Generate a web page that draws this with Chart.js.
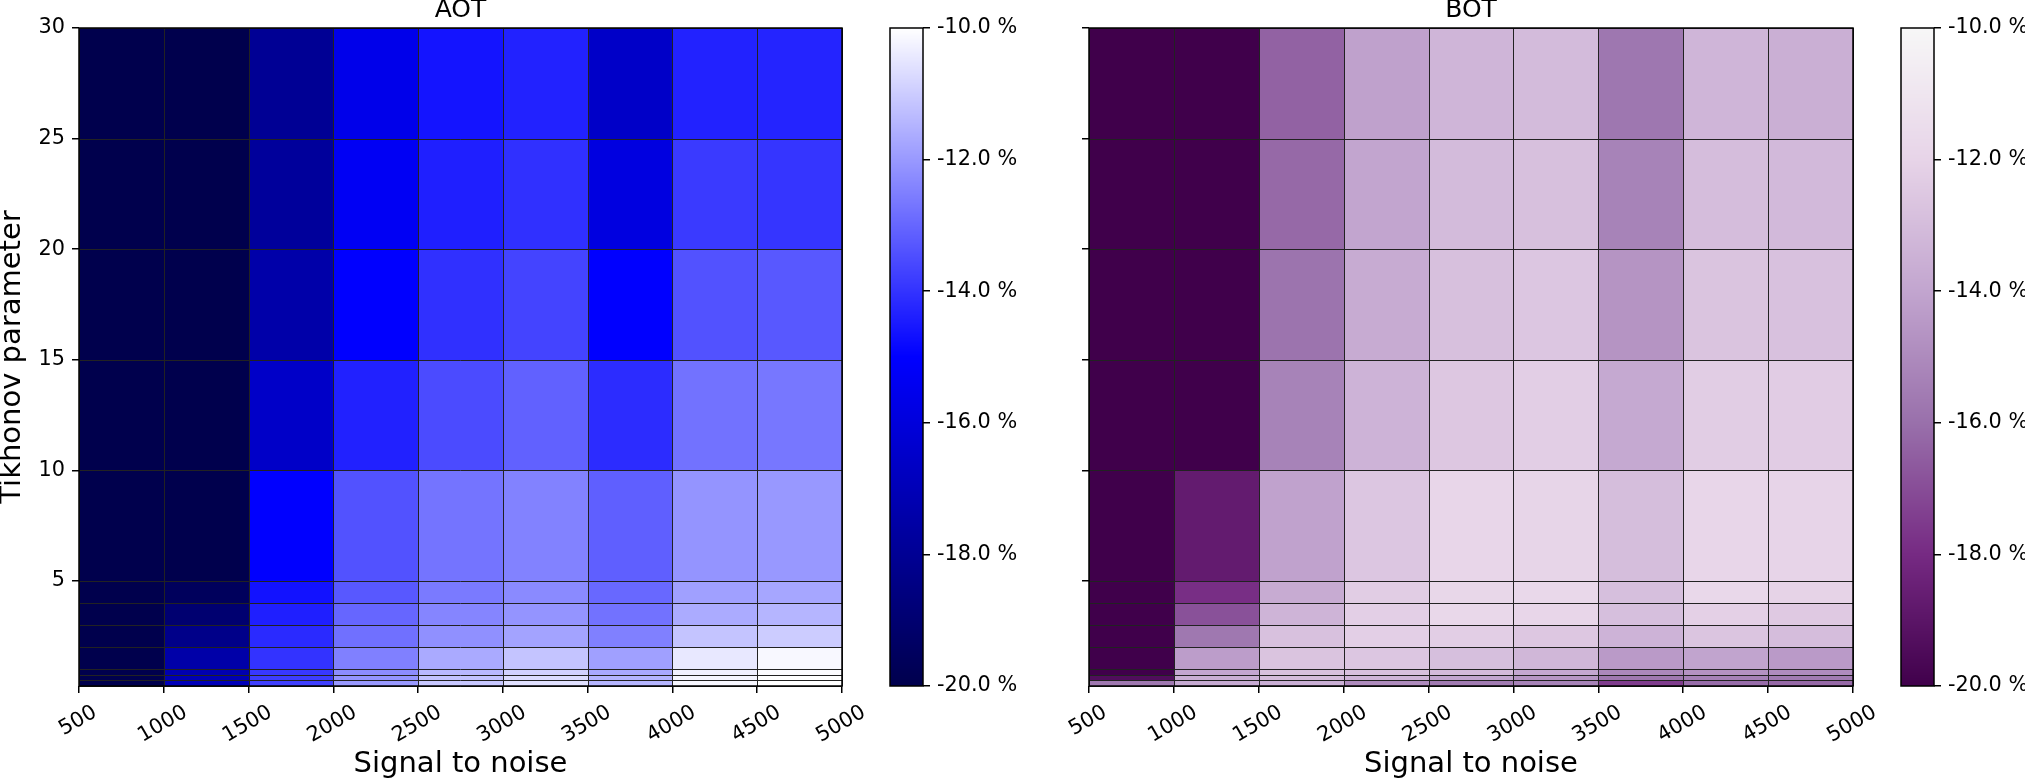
<!DOCTYPE html>
<html><head><meta charset="utf-8">
<script src="https://cdn.jsdelivr.net/npm/chart.js@4.4.1/dist/chart.umd.min.js"></script>
<style>
html,body{margin:0;padding:0;background:#fff;width:2025px;height:781px;overflow:hidden}
canvas{position:absolute;top:0;display:block}
</style></head><body>
<canvas id="hmA" width="880" height="781" style="left:0px"></canvas>
<canvas id="cbA" width="140" height="781" style="left:880px"></canvas>
<canvas id="hmB" width="861" height="781" style="left:1030px"></canvas>
<canvas id="cbB" width="134" height="781" style="left:1891px"></canvas>
<script>
// ---------- data ----------
const snrEdges = [500, 1000, 1500, 2000, 2500, 3000, 3500, 4000, 4500, 5000];
const tikhonovEdges = [0.25, 0.5, 0.75, 1, 2, 3, 4, 5, 10, 15, 20, 25, 30];
const xTickValues = [500, 1000, 1500, 2000, 2500, 3000, 3500, 4000, 4500, 5000];
const yTickValues = [5, 10, 15, 20, 25, 30];
const cbarTickValues = [-20, -18, -16, -14, -12, -10];

// rows from bottom (0.25-0.5) to top (25-30), columns SNR 500-1000 ... 4500-5000 (values in %)
const aotRows = [
  [-21.0, -17.0, -13.75, -12.0, -11.1, -10.6, -11.45, -10.15, -10.0],
  [-21.0, -17.1, -13.8, -12.1, -11.2, -10.7, -11.5, -10.2, -10.0],
  [-21.0, -17.2, -13.9, -12.25, -11.4, -10.9, -11.7, -10.3, -10.05],
  [-21.0, -17.44, -14.0, -12.5, -11.67, -11.16, -11.86, -10.45, -10.14],
  [-21.0, -18.3, -14.18, -12.8, -12.18, -11.8, -12.5, -11.16, -11.0],
  [-21.0, -19.0, -14.4, -13.0, -12.4, -12.1, -12.76, -11.65, -11.45],
  [-20.6, -19.57, -14.65, -13.27, -12.6, -12.3, -12.96, -11.86, -11.75],
  [-20.8, -20.1, -15.0, -13.4, -12.73, -12.45, -13.14, -12.1, -12.02],
  [-21.0, -20.9, -16.54, -14.35, -13.53, -13.1, -14.14, -12.76, -12.67],
  [-21.0, -21.0, -17.4, -15.0, -14.06, -13.67, -15.0, -13.4, -13.27],
  [-21.0, -21.0, -17.8, -15.3, -14.4, -14.06, -15.87, -13.86, -13.96],
  [-21.0, -21.0, -18.0, -15.6, -14.6, -14.33, -16.54, -14.33, -14.3]
];
const botRows = [
  [-15.7, -13.8, -13.6, -15.0, -15.6, -15.3, -17.5, -16.1, -16.2],
  [-19.4, -13.6, -13.05, -13.35, -14.0, -14.6, -15.7, -15.35, -15.6],
  [-20.6, -13.95, -12.85, -12.85, -13.1, -13.9, -15.1, -14.7, -14.95],
  [-21.0, -14.3, -12.7, -12.6, -12.9, -13.25, -14.4, -14.05, -14.4],
  [-21.0, -15.7, -12.8, -12.2, -12.25, -12.55, -13.4, -12.65, -13.0],
  [-21.0, -16.9, -13.35, -12.2, -11.8, -11.9, -12.9, -12.15, -12.45],
  [-21.0, -17.9, -13.75, -12.3, -11.85, -11.8, -12.9, -11.8, -12.05],
  [-21.0, -18.7, -14.1, -12.6, -11.9, -11.95, -12.95, -11.9, -12.0],
  [-21.0, -21.0, -15.3, -13.4, -12.55, -12.25, -13.83, -12.3, -12.35],
  [-21.0, -21.0, -15.85, -13.75, -12.85, -12.6, -14.64, -12.7, -12.8],
  [-21.0, -21.0, -16.2, -14.0, -13.06, -12.85, -15.3, -13.0, -13.15],
  [-21.0, -21.0, -16.4, -14.15, -13.3, -13.06, -15.74, -13.3, -13.57]
];

// ---------- colormaps ----------
const seismicLowStops = [[0, 0, 76.5], [0, 0, 255], [255, 255, 255]];
const prgnLowStops = [[64, 0, 75], [118, 42, 131], [153, 112, 171], [194, 165, 207], [231, 212, 232], [247, 247, 247]];
function makeCmap(stops, vmin, vmax) {
  return function (v) {
    let t = (v - vmin) / (vmax - vmin);
    t = Math.max(0, Math.min(1, t));
    const n = stops.length - 1;
    const f = t * n;
    const i = Math.min(Math.floor(f), n - 1);
    const u = f - i;
    const a = stops[i], b = stops[i + 1];
    const c = k => Math.round(a[k] + (b[k] - a[k]) * u);
    return 'rgb(' + c(0) + ',' + c(1) + ',' + c(2) + ')';
  };
}
const cmapAOT = makeCmap(seismicLowStops, -20, -10);
const cmapBOT = makeCmap(prgnLowStops, -20, -10);

const FAMILY = "'DejaVu Sans', sans-serif";
const TICK_FS = 20.8;
const LABEL_FS = 29;
const TITLE_FS = 25;
Chart.defaults.font.family = FAMILY;
Chart.defaults.color = '#000';

function cellPlugin(cmap) {
  return {
    id: 'cells',
    beforeDatasetsDraw(chart) {
      const {ctx, chartArea: ca, scales: {x, y}} = chart;
      ctx.save();
      chart.data.datasets[0].data.forEach(p => {
        const x0 = Math.round(x.getPixelForValue(snrEdges[p.j]));
        const x1 = Math.round(x.getPixelForValue(snrEdges[p.j + 1]));
        const y0 = Math.round(y.getPixelForValue(tikhonovEdges[p.i + 1]));
        const y1 = Math.round(y.getPixelForValue(tikhonovEdges[p.i]));
        ctx.fillStyle = cmap(p.v);
        ctx.fillRect(x0, y0, x1 - x0, y1 - y0);
      });
      ctx.strokeStyle = '#222';
      ctx.lineWidth = 1;
      ctx.beginPath();
      snrEdges.forEach(e => {
        const px = Math.round(x.getPixelForValue(e)) + 0.5;
        ctx.moveTo(px, ca.top); ctx.lineTo(px, ca.bottom);
      });
      tikhonovEdges.forEach(e => {
        const py = Math.round(y.getPixelForValue(e)) + 0.5;
        ctx.moveTo(ca.left, py); ctx.lineTo(ca.right, py);
      });
      ctx.stroke();
      ctx.restore();
    },
    afterDraw(chart) {
      const {ctx, chartArea: ca, scales: {x}} = chart;
      ctx.save();
      ctx.strokeStyle = '#000';
      ctx.lineWidth = 1.5;
      ctx.strokeRect(ca.left, ca.top, ca.right - ca.left, ca.bottom - ca.top);
      // rotated x tick labels, centred under their ticks
      const fs = TICK_FS;
      ctx.font = fs + 'px ' + FAMILY;
      ctx.fillStyle = '#000';
      ctx.textAlign = 'center';
      ctx.textBaseline = 'middle';
      const ang = 30 * Math.PI / 180;
      xTickValues.forEach(v => {
        const label = String(v);
        const w = ctx.measureText(label).width;
        const H = w * Math.sin(ang) + fs * Math.cos(ang);
        const cx = x.getPixelForValue(v) - 1;
        const cy = ca.bottom + 16 + H / 2;
        ctx.save();
        ctx.translate(cx, cy);
        ctx.rotate(-ang);
        ctx.fillText(label, 0, 0);
        ctx.restore();
      });
      ctx.restore();
    }
  };
}

function heatmap(id, rows, cmap, title, showYLabels, yWidth) {
  const data = [];
  rows.forEach((row, i) => row.forEach((v, j) => data.push({
    x: (snrEdges[j] + snrEdges[j + 1]) / 2,
    y: (tikhonovEdges[i] + tikhonovEdges[i + 1]) / 2,
    v: v, i: i, j: j
  })));
  return new Chart(document.getElementById(id), {
    type: 'scatter',
    data: {datasets: [{data: data, pointRadius: 0, pointHoverRadius: 0}]},
    options: {
      responsive: false, animation: false, events: [],
      layout: {padding: {left: 0, right: 38, top: 0, bottom: 0}},
      plugins: {legend: {display: false}, tooltip: {enabled: false}},
      scales: {
        x: {
          type: 'linear', position: 'bottom', min: 500, max: 5000,
          afterBuildTicks: s => { s.ticks = xTickValues.map(v => ({value: v})); },
          afterFit: s => { s.height = 95; },
          grid: {drawOnChartArea: false, drawTicks: true, tickLength: 7, color: '#000', lineWidth: 1.5},
          border: {display: false},
          ticks: {display: false},
          title: {display: true, text: 'Signal to noise', color: '#000',
                  font: {family: FAMILY, size: LABEL_FS, lineHeight: 1}, padding: {top: 0, bottom: 2}}
        },
        xt: {
          type: 'linear', position: 'top', min: 500, max: 5000,
          afterFit: s => { s.height = 28; },
          grid: {display: false}, border: {display: false}, ticks: {display: false},
          title: {display: true, text: title, color: '#000',
                  font: {family: FAMILY, size: TITLE_FS, lineHeight: 0.87}, padding: {top: 0, bottom: 0}}
        },
        y: {
          type: 'linear', position: 'left', min: 0.25, max: 30,
          afterBuildTicks: s => { s.ticks = yTickValues.map(v => ({value: v})); },
          afterFit: s => { s.width = yWidth; },
          grid: {drawOnChartArea: false, drawTicks: true, tickLength: 7, color: '#000', lineWidth: 1.5},
          border: {display: false},
          ticks: {display: showYLabels, color: '#000', font: {family: FAMILY, size: TICK_FS}, padding: 7},
          title: {display: showYLabels, text: 'Tikhonov parameter', color: '#000',
                  font: {family: FAMILY, size: LABEL_FS, lineHeight: 0.83}, padding: {top: 0, bottom: 0}}
        }
      }
    },
    plugins: [cellPlugin(cmap)]
  });
}

function gradientPlugin(cmap) {
  return {
    id: 'cbar',
    beforeDatasetsDraw(chart) {
      const {ctx, chartArea: ca, scales: {y}} = chart;
      ctx.save();
      for (let py = Math.floor(ca.top); py < Math.ceil(ca.bottom); py++) {
        ctx.fillStyle = cmap(y.getValueForPixel(py + 0.5));
        ctx.fillRect(ca.left, py, ca.right - ca.left, 1);
      }
      ctx.restore();
    },
    afterDraw(chart) {
      const {ctx, chartArea: ca} = chart;
      ctx.save();
      ctx.strokeStyle = '#000';
      ctx.lineWidth = 1.5;
      ctx.strokeRect(ca.left, ca.top, ca.right - ca.left, ca.bottom - ca.top);
      ctx.restore();
    }
  };
}

function colorbar(id, cmap, yWidth) {
  return new Chart(document.getElementById(id), {
    type: 'scatter',
    data: {datasets: [{data: []}]},
    options: {
      responsive: false, animation: false, events: [],
      layout: {padding: {left: 10, top: 28, bottom: 95, right: 0}},
      plugins: {legend: {display: false}, tooltip: {enabled: false}},
      scales: {
        x: {display: false, min: 0, max: 1},
        y: {
          type: 'linear', position: 'right', min: -20, max: -10,
          afterBuildTicks: s => { s.ticks = cbarTickValues.map(v => ({value: v})); },
          afterFit: s => { s.width = yWidth; },
          grid: {drawOnChartArea: false, drawTicks: true, tickLength: 7, color: '#000', lineWidth: 1.5},
          border: {display: false},
          ticks: {color: '#000', font: {family: FAMILY, size: TICK_FS}, padding: 7,
                  callback: v => v.toFixed(1) + ' %'}
        }
      }
    },
    plugins: [gradientPlugin(cmap)]
  });
}

heatmap('hmA', aotRows, cmapAOT, 'AOT', true, 79);
colorbar('cbA', cmapAOT, 97);
heatmap('hmB', botRows, cmapBOT, 'BOT', false, 59);
colorbar('cbB', cmapBOT, 91);
</script>
</body></html>
